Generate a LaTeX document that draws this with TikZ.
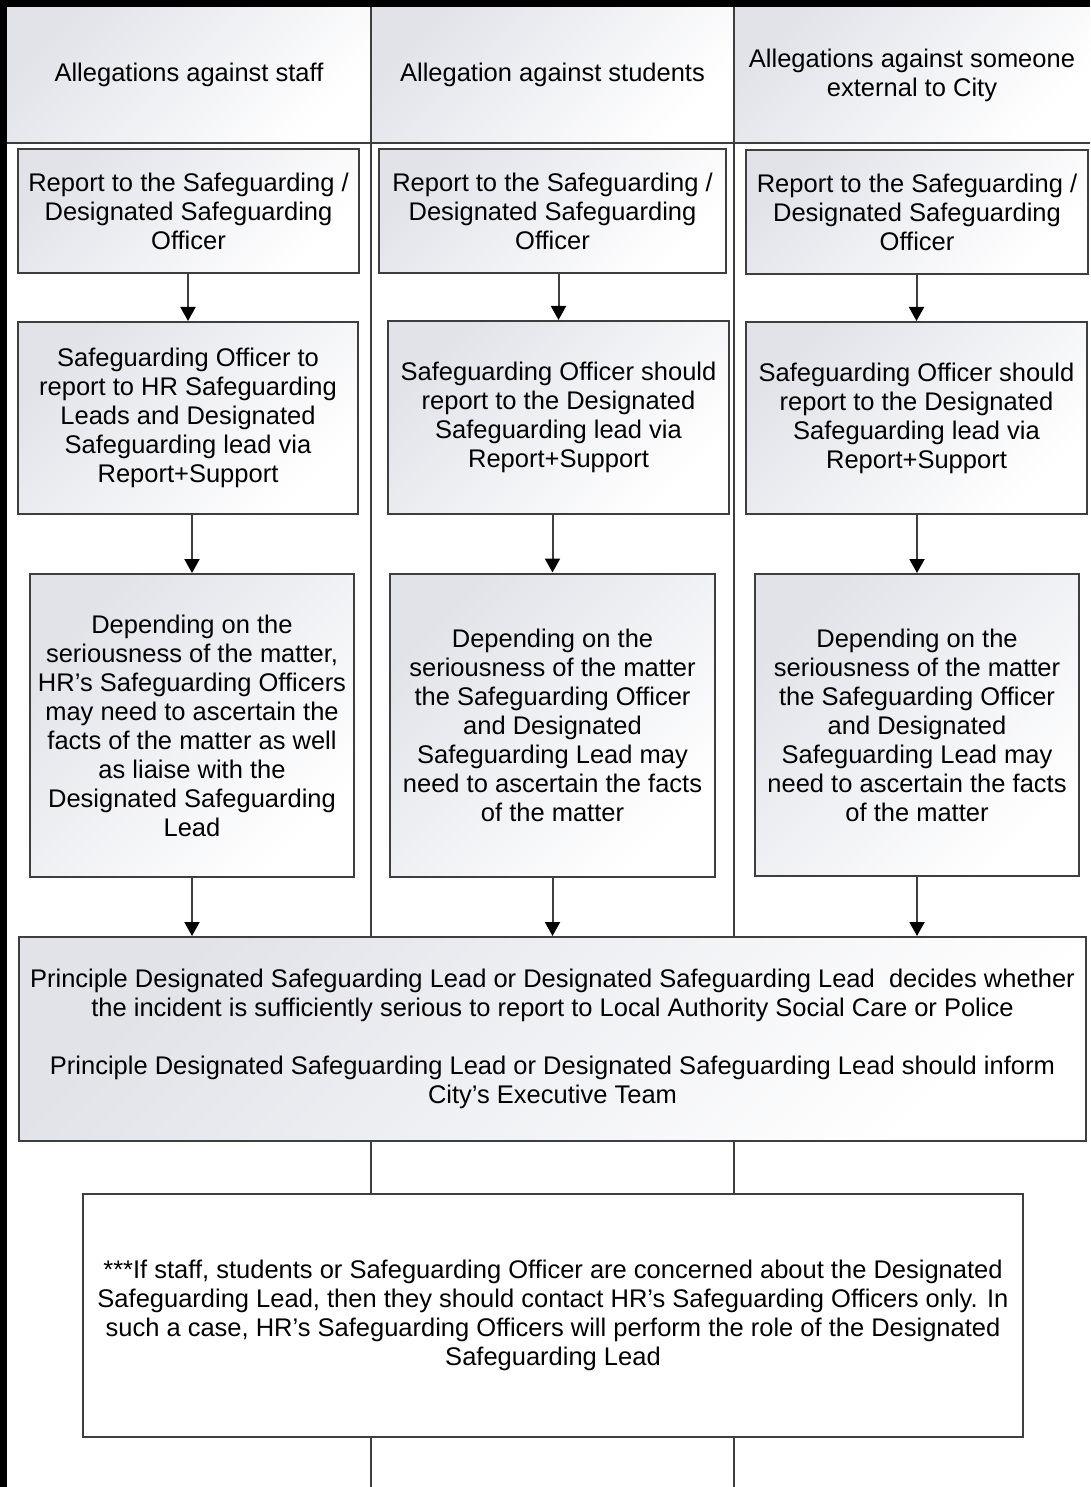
\documentclass[tikz,border=0pt]{standalone}
\usepackage{fontspec}
\setmainfont{Liberation Sans}
\usetikzlibrary{arrows.meta,positioning}
\definecolor{shadegray}{RGB}{225,227,233}
\definecolor{linegray}{RGB}{62,62,62}

\tikzset{
  box/.style={draw=linegray, line width=2pt, top color=shadegray, bottom color=white,
              shading angle=45, align=center, inner sep=0pt, anchor=center},
  head/.style={box, draw=none},
  notebox/.style={draw=linegray, line width=2pt, fill=white, align=center, inner sep=0pt},
  arr/.style={draw=linegray, line width=2pt, -{Triangle[width=15pt,length=14pt,color=black]}},
  lane/.style={draw=linegray, line width=2.5pt},
}

\begin{document}
\begin{tikzpicture}[x=1pt,y=-1pt,font=\fontsize{25.5}{29}\selectfont]

\useasboundingbox (0,0) rectangle (1090,1487);

\node[head, minimum width=364pt, minimum height=136pt] (H1) at (189,75) {Allegations against staff};
\node[head, minimum width=363pt, minimum height=136pt] (H2) at (552.5,75) {Allegation against students};
\node[head, minimum width=356pt, minimum height=136pt] (H3) at (912,75) {Allegations against someone\\external to City};

\draw[lane] (7,143) -- (1090,143);
\foreach \x in {371,734}
  \draw[lane] (\x,7) -- (\x,1487);
\fill[black] (0,0) rectangle (1090,7);
\fill[black] (0,0) rectangle (7,1487);

\node[box, minimum width=341pt, minimum height=124pt] (B11) at (188.5,211) {Report to the Safeguarding /\\Designated Safeguarding\\Officer};
\node[box, minimum width=347pt, minimum height=124pt] (B12) at (552.5,211) {Report to the Safeguarding /\\Designated Safeguarding\\Officer};
\node[box, minimum width=342pt, minimum height=124pt] (B13) at (917,212) {Report to the Safeguarding /\\Designated Safeguarding\\Officer};

\node[box, minimum width=340pt, minimum height=192pt] (B21) at (188,418) {Safeguarding Officer to\\report to HR Safeguarding\\Leads and Designated\\Safeguarding lead via\\Report+Support};
\node[box, minimum width=341pt, minimum height=193pt] (B22) at (558.5,417.5) {Safeguarding Officer should\\report to the Designated\\Safeguarding lead via\\Report+Support};
\node[box, minimum width=341pt, minimum height=192pt] (B23) at (916.5,418) {Safeguarding Officer should\\report to the Designated\\Safeguarding lead via\\Report+Support};

\node[box, minimum width=324pt, minimum height=303pt] (B31) at (192,725.5) {Depending on the\\seriousness of the matter,\\HR’s Safeguarding Officers\\may need to ascertain the\\facts of the matter as well\\as liaise with the\\Designated Safeguarding\\Lead};
\node[box, minimum width=325pt, minimum height=303pt] (B32) at (552.5,725) {Depending on the\\seriousness of the matter\\the Safeguarding Officer\\and Designated\\Safeguarding Lead may\\need to ascertain the facts\\of the matter};
\node[box, minimum width=324pt, minimum height=302pt] (B33) at (917,725) {Depending on the\\seriousness of the matter\\the Safeguarding Officer\\and Designated\\Safeguarding Lead may\\need to ascertain the facts\\of the matter};

\node[box, minimum width=1067pt, minimum height=204pt] (Dec) at (552.5,1039) {Principle Designated Safeguarding Lead or Designated Safeguarding Lead\ \ decides whether\\the incident is sufficiently serious to report to Local Authority Social Care or Police\\[29pt]Principle Designated Safeguarding Lead or Designated Safeguarding Lead should inform\\City’s Executive Team};

\node[notebox, minimum width=940pt, minimum height=243pt] (Note) at (553,1315.5) {***If staff, students or Safeguarding Officer are concerned about the Designated\\Safeguarding Lead, then they should contact HR’s Safeguarding Officers only. In\\such a case, HR’s Safeguarding Officers will perform the role of the Designated\\Safeguarding Lead};

\foreach \c in {1,2,3}
{
  \draw[arr] (B1\c.south -| B2\c.north) -- (B2\c.north);
  \draw[arr] (B2\c.south -| B3\c.north) -- (B3\c.north);
  \draw[arr] (B3\c.south) -- (B3\c.south |- Dec.north);
}

\end{tikzpicture}
\end{document}
